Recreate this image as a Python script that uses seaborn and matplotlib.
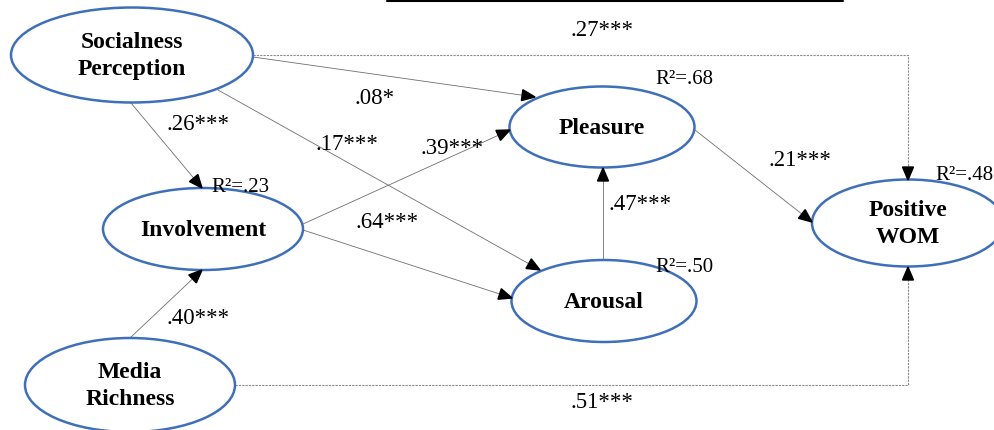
import matplotlib
matplotlib.use("Agg")
import matplotlib.pyplot as plt
from matplotlib.patches import Ellipse, Polygon
import numpy as np
import pandas as pd
import seaborn as sns

# constructs of the path model
node_names = ["soc", "inv", "med", "ple", "aro", "wom"]
node_labels = ["Socialness\nPerception", "Involvement", "Media\nRichness",
               "Pleasure", "Arousal", "Positive\nWOM"]
r_squared = {"inv": ".23", "ple": ".68", "aro": ".50", "wom": ".48"}

# structural paths and their standardized coefficients
path_from = ["soc", "soc", "soc", "inv", "inv", "med", "aro", "ple", "soc", "med"]
path_to = ["ple", "inv", "aro", "ple", "aro", "inv", "ple", "wom", "wom", "wom"]
path_coef = [".08*", ".26***", ".17***", ".39***", ".64***", ".40***",
             ".47***", ".21***", ".27***", ".51***"]

# layout (pixel coordinates of the original diagram)
node_box = {
    "soc": (132, 55, 242, 95),
    "inv": (203, 229, 200, 82),
    "med": (130, 385, 210, 94),
    "ple": (602, 127, 185, 81),
    "aro": (604, 301, 185, 82),
    "wom": (908, 223, 192, 87),
}
path_route = [
    [(253, 57), (535, 97)],
    [(131, 103), (202, 188)],
    [(218, 90), (540, 270)],
    [(303, 224), (510, 130)],
    [(303, 230), (512, 298)],
    [(130, 338), (202, 270)],
    [(603, 260), (603, 168)],
    [(695, 130), (812, 222)],
    [(253, 55), (908, 55), (908, 180)],
    [(235, 385), (908, 385), (908, 267)],
]
coef_pos = [(375, 98), (198, 125), (347, 144), (452, 148), (387, 223),
            (198, 319), (640, 204), (800, 160), (602, 31), (602, 402)]
r2_pos = {"inv": (240, 188), "ple": (684, 79), "aro": (684, 267), "wom": (964, 175)}

sns.set_theme(style="white")
plt.rcParams["font.family"] = ["Liberation Serif", "DejaVu Serif"]
plt.rcParams["text.color"] = "black"

fig = plt.figure(figsize=(9.95, 4.3), dpi=100)
ax = fig.add_axes([0, 0, 1, 1])

rows = []
for i, route in enumerate(path_route):
    for k, (x, y) in enumerate(route):
        rows.append({"edge": i, "order": k, "x": x, "y": y,
                     "kind": "dash" if len(route) > 2 else "solid"})
edges = pd.DataFrame(rows)

sns.lineplot(data=edges[edges.kind == "solid"], x="x", y="y", units="edge",
             estimator=None, sort=False, color="#6f6f6f", lw=0.6, ax=ax)
sns.lineplot(data=edges[edges.kind == "dash"], x="x", y="y", units="edge",
             estimator=None, sort=False, color="#8a8a8a", lw=0.8,
             linestyle=(0, (2, 1)), ax=ax)
ax.set_xlim(0, 995)
ax.set_ylim(430, 0)
ax.axis("off")

# caption underline cut at the top of the figure
ax.plot([387, 843], [1, 1], color="black", lw=1.5)

# arrow heads
for route in path_route:
    (x0, y0), (x1, y1) = route[-2], route[-1]
    d = np.array([x1 - x0, y1 - y0], dtype=float)
    d /= np.hypot(*d)
    n = np.array([-d[1], d[0]])
    tip = np.array([x1, y1], dtype=float)
    base = tip - 13 * d
    ax.add_patch(Polygon([tip, base + 5.5 * n, base - 5.5 * n],
                         closed=True, color="black", zorder=4))

for name, label in zip(node_names, node_labels):
    cx, cy, w, h = node_box[name]
    ax.add_patch(Ellipse((cx, cy), w, h, facecolor="white",
                         edgecolor="#3f6fb8", lw=1.8, zorder=3))
    ax.text(cx, cy + 1, label, ha="center", va="center", fontsize=17,
            fontweight="bold", linespacing=1.42, color="black", zorder=5)

for coef, (x, y) in zip(path_coef, coef_pos):
    ax.text(x, y, coef, ha="center", va="center", fontsize=16.5,
            color="black", zorder=5)

for name, (x, y) in r2_pos.items():
    ax.text(x, y, "R²=" + r_squared[name], ha="center", va="center",
            fontsize=15, color="black", zorder=5)

fig.savefig("out.png", dpi=100)
